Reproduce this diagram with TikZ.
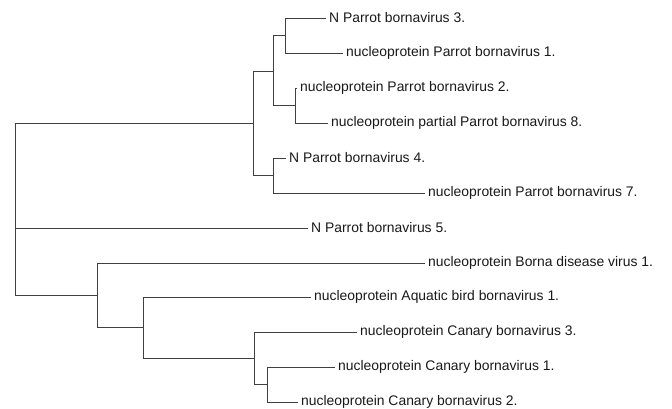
\documentclass[tikz,border=0pt]{standalone}
\usepackage{fontspec}
\setmainfont{Liberation Sans}
\usepackage{tikz}
\tikzstyle{leaf} = [anchor=west, inner xsep=3pt, inner ysep=0pt, text=black!90, font=\fontsize{13.9}{15}\selectfont]
\tikzstyle{branch} = [draw=black!75, line width=0.9pt]

\begin{document}
\begin{tikzpicture}[x=1pt, y=-1pt]
	\useasboundingbox (0,0) rectangle (672,409);

	% leaves
	\node (pbv3) [leaf] at (326,18) {N Parrot bornavirus 3.};
	\node (pbv1) [leaf] at (343,53) {nucleoprotein Parrot bornavirus 1.};
	\node (pbv2) [leaf] at (297,88) {nucleoprotein Parrot bornavirus 2.};
	\node (pbv8) [leaf] at (328,123) {nucleoprotein partial Parrot bornavirus 8.};
	\node (pbv4) [leaf] at (286,158) {N Parrot bornavirus 4.};
	\node (pbv7) [leaf] at (425,193) {nucleoprotein Parrot bornavirus 7.};
	\node (pbv5) [leaf] at (308,228) {N Parrot bornavirus 5.};
	\node (bdv1) [leaf] at (425,263) {nucleoprotein Borna disease virus 1.};
	\node (abbv1) [leaf] at (311,297) {nucleoprotein Aquatic bird bornavirus 1.};
	\node (cnbv3) [leaf] at (357,332) {nucleoprotein Canary bornavirus 3.};
	\node (cnbv1) [leaf] at (335,367) {nucleoprotein Canary bornavirus 1.};
	\node (cnbv2) [leaf] at (298,402) {nucleoprotein Canary bornavirus 2.};

	% inner nodes
	\coordinate (root) at (15,209);
	\coordinate (par) at (253,123);
	\coordinate (parA) at (273,71);
	\coordinate (parAA) at (285,35.5);
	\coordinate (parAB) at (295,105.5);
	\coordinate (parB) at (273,175.5);
	\coordinate (low) at (97,295.5);
	\coordinate (lowA) at (143,327.75);
	\coordinate (can) at (254,358.25);
	\coordinate (can12) at (267,384.5);

	\draw [branch] (root) |- (par);
	\draw [branch] (root) |- (pbv5);
	\draw [branch] (root) |- (low);
	\draw [branch] (par) |- (parA);
	\draw [branch] (par) |- (parB);
	\draw [branch] (parA) |- (parAA);
	\draw [branch] (parA) |- (parAB);
	\draw [branch] (parAA) |- (pbv3);
	\draw [branch] (parAA) |- (pbv1);
	\draw [branch] (parAB) |- (pbv2);
	\draw [branch] (parAB) |- (pbv8);
	\draw [branch] (parB) |- (pbv4);
	\draw [branch] (parB) |- (pbv7);
	\draw [branch] (low) |- (bdv1);
	\draw [branch] (low) |- (lowA);
	\draw [branch] (lowA) |- (abbv1);
	\draw [branch] (lowA) |- (can);
	\draw [branch] (can) |- (cnbv3);
	\draw [branch] (can) |- (can12);
	\draw [branch] (can12) |- (cnbv1);
	\draw [branch] (can12) |- (cnbv2);

\end{tikzpicture}
\end{document}
